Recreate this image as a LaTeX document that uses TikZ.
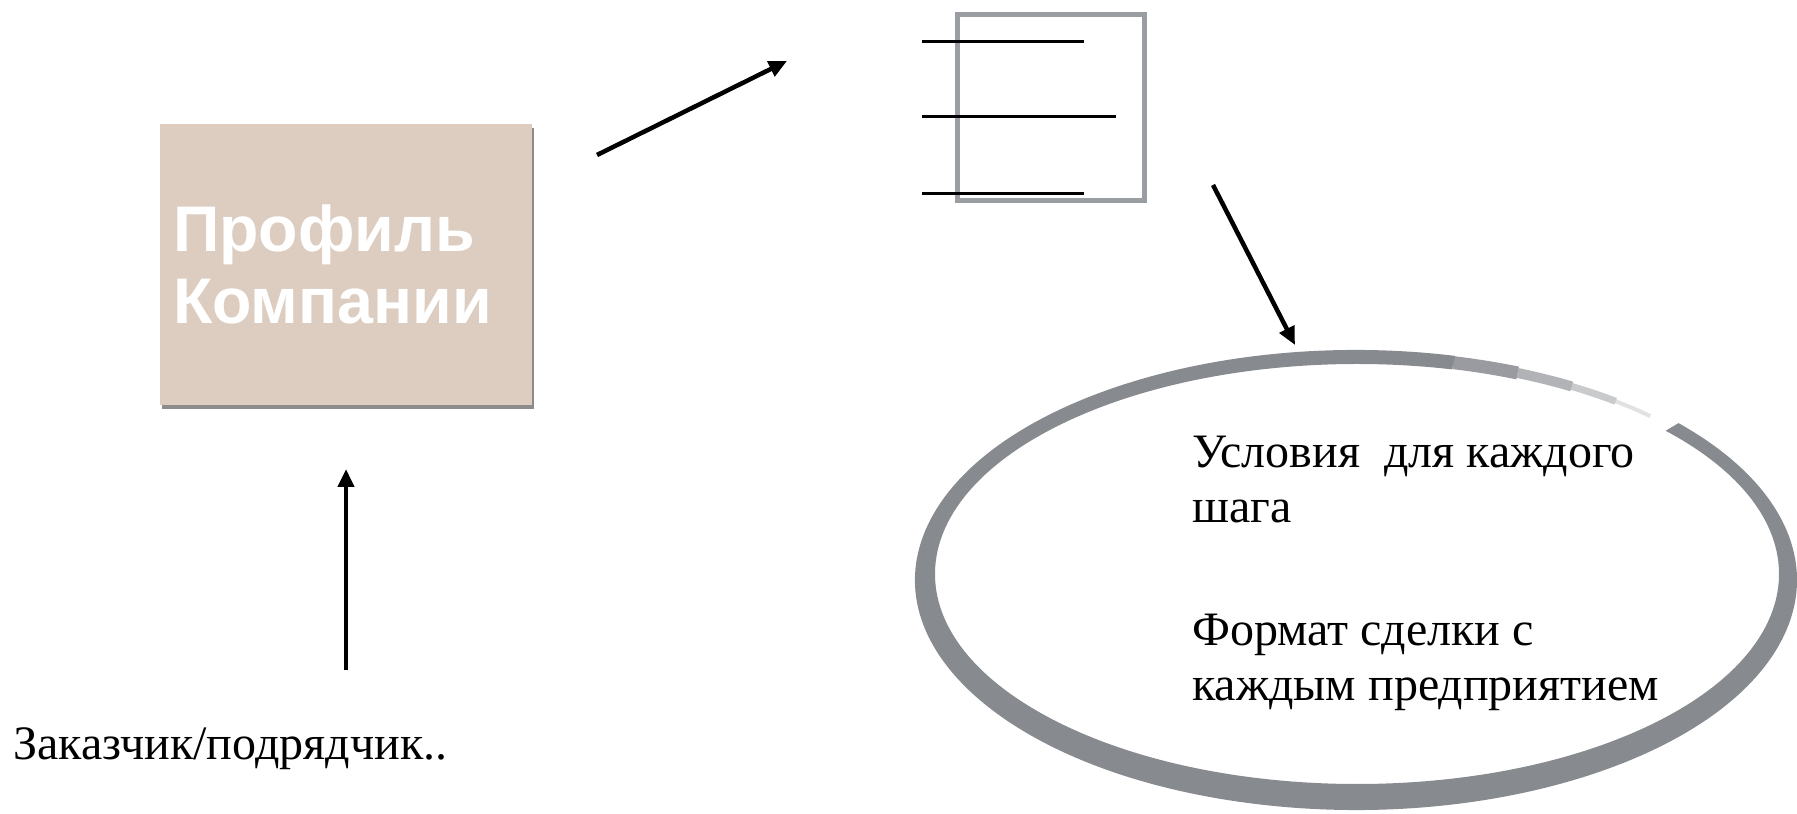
\documentclass[tikz,border=0pt]{standalone}
\usepackage{fontspec}
\setmainfont{Liberation Serif}
\setsansfont{Liberation Sans}
\usetikzlibrary{arrows.meta,shadows}
\definecolor{boxfill}{RGB}{220,205,192}
\definecolor{docgray}{RGB}{154,157,161}
\definecolor{ovalgray}{RGB}{135,138,143}
\begin{document}
\begin{tikzpicture}[x=1pt,y=1pt,
  arr/.style={line width=4.5pt,-{Triangle[length=18pt,width=16pt]}},
  serifbig/.style={font=\fontsize{48}{55}\selectfont,inner sep=0pt,anchor=base west},
  profbox/.style={fill=boxfill,minimum width=372pt,minimum height=281pt,inner sep=13pt,
    text width=346pt,align=left,text=white,
    font=\sffamily\bfseries\fontsize{64.5}{72}\selectfont,
    drop shadow={shadow xshift=1.5pt,shadow yshift=-4pt,opacity=0.45,fill=black}},
  docbox/.style={draw=docgray,line width=5pt,minimum width=187pt,minimum height=186pt,inner sep=0pt},
  docline/.style={line width=3pt,black},
  fadeseg/.style={draw=ovalgray,line cap=butt}
  ]
\useasboundingbox (0,0) rectangle (1797,814);

% company profile box
\node[profbox] (profile) at (346,549.5) {Профиль\\Компании};

% document icon
\node[docbox] (doc) at (1050.5,706) {};
\draw[docline] (922,772) -- (1084,772);
\draw[docline] (922,697) -- (1116,697);
\draw[docline] (922,620) -- (1084,620);

% brush ellipse
\fill[ovalgray] ([shift={(1356,234)}]-283:441 and 230)
  arc[start angle=-283,end angle=43,x radius=441,y radius=230]
  -- ([shift={(1357,240)}]43:422 and 210)
  arc[start angle=43,end angle=-283,x radius=422,y radius=210] -- cycle;
\draw[fadeseg,line width=13pt,opacity=0.85] ([shift={(1356,237)}]77:431.5 and 220)
  arc[start angle=77,end angle=68,x radius=431.5,y radius=220];
\draw[fadeseg,line width=10pt,opacity=0.65] ([shift={(1356,237)}]68:431.5 and 220)
  arc[start angle=68,end angle=60,x radius=431.5,y radius=220];
\draw[fadeseg,line width=7pt,opacity=0.45] ([shift={(1356,237)}]60:431.5 and 220)
  arc[start angle=60,end angle=53,x radius=431.5,y radius=220];
\draw[fadeseg,line width=4pt,opacity=0.25] ([shift={(1356,237)}]53:431.5 and 220)
  arc[start angle=53,end angle=47,x radius=431.5,y radius=220];

% texts
\node[serifbig] (conds) at (1192,346) {\begin{tabular}[t]{@{}l@{}}Условия\ \ для каждого\\шага\\[68pt]Формат сделки с\\каждым предприятием\end{tabular}};
\node[serifbig] (client) at (13,54) {Заказчик/подрядчик..};

% arrows
\coordinate (a1s) at (597,659);
\coordinate (a1e) at (787,753);
\coordinate (a2s) at (1213,629);
\coordinate (a2e) at (1295,469);
\coordinate (a3s) at (346,144);
\coordinate (a3e) at (346,345);
\draw[arr] (a1s) -- (a1e);
\draw[arr] (a2s) -- (a2e);
\draw[arr] (a3s) -- (a3e);
\end{tikzpicture}
\end{document}
